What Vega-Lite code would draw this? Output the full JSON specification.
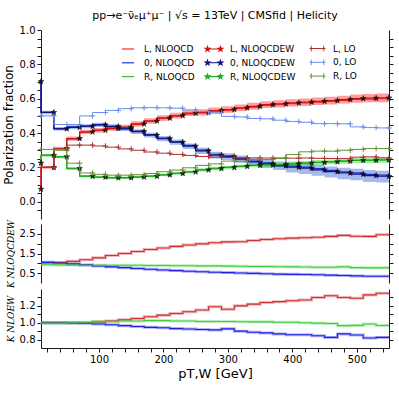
{
"$schema": "https://vega.github.io/schema/vega-lite/v6.json",
"width": 348,
"height": 318,
"padding": {"left": 2, "top": 10, "right": 8, "bottom": 5},
"background": "white",
"title": {"text": "pp→e⁻ν̄ₑμ⁺μ⁻ | √s = 13TeV | CMSfid | Helicity", "offset": 4, "font": "DejaVu Sans", "fontWeight": "normal", "fontSize": 11, "color": "#000"},
"config": {
  "view": {"stroke": null},
  "axis": {"domain": false, "grid": false, "tickColor": "#1a1a1a", "tickSize": 4, "labelFont": "DejaVu Sans", "labelFontSize": 10, "labelColor": "#000", "labelPadding": 2, "titleFont": "DejaVu Sans", "titleFontWeight": "normal", "titleColor": "#000", "titleFontSize": 12},
  "legend": {"labelFont": "DejaVu Sans", "labelFontSize": 9, "labelColor": "#000"}
},
"datasets": {
"frac": [
{"x":10,"c":"L","qcd":0.074,"ew":0.074,"lo":0.2,"blo":0.066,"bhi":0.082},
{"x":30,"c":"L","qcd":0.2,"ew":0.2,"lo":0.2,"blo":0.192,"bhi":0.208},
{"x":50,"c":"L","qcd":0.31,"ew":0.31,"lo":0.31,"blo":0.3,"bhi":0.32},
{"x":70,"c":"L","qcd":0.366,"ew":0.368,"lo":0.33,"blo":0.356,"bhi":0.38},
{"x":90,"c":"L","qcd":0.405,"ew":0.407,"lo":0.33,"blo":0.395,"bhi":0.419},
{"x":110,"c":"L","qcd":0.415,"ew":0.417,"lo":0.325,"blo":0.404,"bhi":0.43},
{"x":130,"c":"L","qcd":0.425,"ew":0.427,"lo":0.318,"blo":0.413,"bhi":0.441},
{"x":150,"c":"L","qcd":0.432,"ew":0.434,"lo":0.308,"blo":0.419,"bhi":0.449},
{"x":170,"c":"L","qcd":0.451,"ew":0.454,"lo":0.3,"blo":0.439,"bhi":0.469},
{"x":190,"c":"L","qcd":0.468,"ew":0.471,"lo":0.29,"blo":0.455,"bhi":0.487},
{"x":210,"c":"L","qcd":0.485,"ew":0.488,"lo":0.283,"blo":0.472,"bhi":0.504},
{"x":230,"c":"L","qcd":0.499,"ew":0.502,"lo":0.276,"blo":0.485,"bhi":0.519},
{"x":250,"c":"L","qcd":0.512,"ew":0.516,"lo":0.27,"blo":0.499,"bhi":0.533},
{"x":270,"c":"L","qcd":0.517,"ew":0.521,"lo":0.264,"blo":0.503,"bhi":0.539},
{"x":290,"c":"L","qcd":0.527,"ew":0.531,"lo":0.26,"blo":0.513,"bhi":0.549},
{"x":310,"c":"L","qcd":0.533,"ew":0.537,"lo":0.258,"blo":0.518,"bhi":0.556},
{"x":330,"c":"L","qcd":0.543,"ew":0.547,"lo":0.256,"blo":0.528,"bhi":0.566},
{"x":350,"c":"L","qcd":0.551,"ew":0.556,"lo":0.256,"blo":0.536,"bhi":0.576},
{"x":370,"c":"L","qcd":0.561,"ew":0.566,"lo":0.255,"blo":0.546,"bhi":0.586},
{"x":390,"c":"L","qcd":0.565,"ew":0.57,"lo":0.255,"blo":0.549,"bhi":0.591},
{"x":410,"c":"L","qcd":0.571,"ew":0.576,"lo":0.254,"blo":0.555,"bhi":0.597},
{"x":430,"c":"L","qcd":0.575,"ew":0.58,"lo":0.255,"blo":0.558,"bhi":0.602},
{"x":450,"c":"L","qcd":0.58,"ew":0.585,"lo":0.253,"blo":0.563,"bhi":0.607},
{"x":470,"c":"L","qcd":0.584,"ew":0.589,"lo":0.252,"blo":0.566,"bhi":0.612},
{"x":490,"c":"L","qcd":0.59,"ew":0.595,"lo":0.252,"blo":0.572,"bhi":0.618},
{"x":510,"c":"L","qcd":0.596,"ew":0.601,"lo":0.26,"blo":0.577,"bhi":0.625},
{"x":530,"c":"L","qcd":0.598,"ew":0.603,"lo":0.262,"blo":0.579,"bhi":0.627},
{"x":550,"c":"L","qcd":0.6,"ew":0.605,"lo":0.256,"blo":0.58,"bhi":0.63},
{"x":10,"c":"0","qcd":0.7,"ew":0.7,"lo":0.5,"blo":0.69,"bhi":0.71},
{"x":30,"c":"0","qcd":0.52,"ew":0.52,"lo":0.5,"blo":0.51,"bhi":0.53},
{"x":50,"c":"0","qcd":0.426,"ew":0.425,"lo":0.45,"blo":0.415,"bhi":0.435},
{"x":70,"c":"0","qcd":0.435,"ew":0.434,"lo":0.45,"blo":0.422,"bhi":0.446},
{"x":90,"c":"0","qcd":0.441,"ew":0.44,"lo":0.5,"blo":0.428,"bhi":0.452},
{"x":110,"c":"0","qcd":0.449,"ew":0.448,"lo":0.52,"blo":0.436,"bhi":0.46},
{"x":130,"c":"0","qcd":0.44,"ew":0.438,"lo":0.532,"blo":0.425,"bhi":0.451},
{"x":150,"c":"0","qcd":0.427,"ew":0.425,"lo":0.542,"blo":0.412,"bhi":0.438},
{"x":170,"c":"0","qcd":0.411,"ew":0.409,"lo":0.547,"blo":0.395,"bhi":0.423},
{"x":190,"c":"0","qcd":0.391,"ew":0.388,"lo":0.548,"blo":0.374,"bhi":0.402},
{"x":210,"c":"0","qcd":0.371,"ew":0.368,"lo":0.547,"blo":0.353,"bhi":0.383},
{"x":230,"c":"0","qcd":0.35,"ew":0.347,"lo":0.545,"blo":0.332,"bhi":0.362},
{"x":250,"c":"0","qcd":0.328,"ew":0.324,"lo":0.535,"blo":0.308,"bhi":0.34},
{"x":270,"c":"0","qcd":0.301,"ew":0.297,"lo":0.525,"blo":0.279,"bhi":0.315},
{"x":290,"c":"0","qcd":0.277,"ew":0.272,"lo":0.518,"blo":0.252,"bhi":0.292},
{"x":310,"c":"0","qcd":0.268,"ew":0.263,"lo":0.497,"blo":0.243,"bhi":0.283},
{"x":330,"c":"0","qcd":0.253,"ew":0.248,"lo":0.494,"blo":0.226,"bhi":0.27},
{"x":350,"c":"0","qcd":0.237,"ew":0.232,"lo":0.485,"blo":0.21,"bhi":0.254},
{"x":370,"c":"0","qcd":0.227,"ew":0.221,"lo":0.483,"blo":0.197,"bhi":0.245},
{"x":390,"c":"0","qcd":0.216,"ew":0.21,"lo":0.475,"blo":0.185,"bhi":0.235},
{"x":410,"c":"0","qcd":0.208,"ew":0.202,"lo":0.468,"blo":0.17,"bhi":0.23},
{"x":430,"c":"0","qcd":0.202,"ew":0.196,"lo":0.463,"blo":0.162,"bhi":0.226},
{"x":450,"c":"0","qcd":0.193,"ew":0.186,"lo":0.455,"blo":0.151,"bhi":0.216},
{"x":470,"c":"0","qcd":0.183,"ew":0.176,"lo":0.455,"blo":0.141,"bhi":0.206},
{"x":490,"c":"0","qcd":0.175,"ew":0.168,"lo":0.454,"blo":0.132,"bhi":0.199},
{"x":510,"c":"0","qcd":0.168,"ew":0.161,"lo":0.436,"blo":0.125,"bhi":0.192},
{"x":530,"c":"0","qcd":0.16,"ew":0.153,"lo":0.432,"blo":0.116,"bhi":0.185},
{"x":550,"c":"0","qcd":0.156,"ew":0.149,"lo":0.43,"blo":0.112,"bhi":0.181},
{"x":10,"c":"R","qcd":0.226,"ew":0.226,"lo":0.305,"blo":0.218,"bhi":0.234},
{"x":30,"c":"R","qcd":0.271,"ew":0.271,"lo":0.305,"blo":0.263,"bhi":0.279},
{"x":50,"c":"R","qcd":0.262,"ew":0.262,"lo":0.3,"blo":0.254,"bhi":0.27},
{"x":70,"c":"R","qcd":0.194,"ew":0.194,"lo":0.225,"blo":0.186,"bhi":0.202},
{"x":90,"c":"R","qcd":0.149,"ew":0.149,"lo":0.168,"blo":0.142,"bhi":0.156},
{"x":110,"c":"R","qcd":0.144,"ew":0.144,"lo":0.16,"blo":0.137,"bhi":0.151},
{"x":130,"c":"R","qcd":0.14,"ew":0.14,"lo":0.155,"blo":0.133,"bhi":0.147},
{"x":150,"c":"R","qcd":0.14,"ew":0.14,"lo":0.155,"blo":0.133,"bhi":0.147},
{"x":170,"c":"R","qcd":0.144,"ew":0.144,"lo":0.158,"blo":0.137,"bhi":0.151},
{"x":190,"c":"R","qcd":0.149,"ew":0.149,"lo":0.165,"blo":0.141,"bhi":0.157},
{"x":210,"c":"R","qcd":0.157,"ew":0.157,"lo":0.175,"blo":0.149,"bhi":0.165},
{"x":230,"c":"R","qcd":0.165,"ew":0.165,"lo":0.185,"blo":0.157,"bhi":0.173},
{"x":250,"c":"R","qcd":0.174,"ew":0.174,"lo":0.198,"blo":0.165,"bhi":0.183},
{"x":270,"c":"R","qcd":0.186,"ew":0.186,"lo":0.212,"blo":0.177,"bhi":0.195},
{"x":290,"c":"R","qcd":0.194,"ew":0.194,"lo":0.221,"blo":0.184,"bhi":0.204},
{"x":310,"c":"R","qcd":0.2,"ew":0.2,"lo":0.237,"blo":0.19,"bhi":0.21},
{"x":330,"c":"R","qcd":0.206,"ew":0.206,"lo":0.237,"blo":0.195,"bhi":0.217},
{"x":350,"c":"R","qcd":0.212,"ew":0.212,"lo":0.246,"blo":0.201,"bhi":0.223},
{"x":370,"c":"R","qcd":0.215,"ew":0.215,"lo":0.246,"blo":0.203,"bhi":0.227},
{"x":390,"c":"R","qcd":0.217,"ew":0.217,"lo":0.252,"blo":0.205,"bhi":0.229},
{"x":410,"c":"R","qcd":0.221,"ew":0.221,"lo":0.275,"blo":0.208,"bhi":0.234},
{"x":430,"c":"R","qcd":0.225,"ew":0.225,"lo":0.291,"blo":0.212,"bhi":0.238},
{"x":450,"c":"R","qcd":0.229,"ew":0.229,"lo":0.295,"blo":0.215,"bhi":0.243},
{"x":470,"c":"R","qcd":0.233,"ew":0.233,"lo":0.295,"blo":0.219,"bhi":0.247},
{"x":490,"c":"R","qcd":0.237,"ew":0.237,"lo":0.3,"blo":0.222,"bhi":0.252},
{"x":510,"c":"R","qcd":0.241,"ew":0.241,"lo":0.305,"blo":0.226,"bhi":0.256},
{"x":530,"c":"R","qcd":0.242,"ew":0.242,"lo":0.31,"blo":0.226,"bhi":0.258},
{"x":550,"c":"R","qcd":0.244,"ew":0.244,"lo":0.31,"blo":0.228,"bhi":0.26}
],
"kqcdew": [
{"x":10,"c":"L","k":1.03},{"x":30,"c":"L","k":1.03},{"x":50,"c":"L","k":1.04},{"x":70,"c":"L","k":1.1},{"x":90,"c":"L","k":1.18},{"x":110,"c":"L","k":1.28},{"x":130,"c":"L","k":1.4},{"x":150,"c":"L","k":1.5},{"x":170,"c":"L","k":1.6},{"x":190,"c":"L","k":1.7},{"x":210,"c":"L","k":1.78},{"x":230,"c":"L","k":1.86},{"x":250,"c":"L","k":1.93},{"x":270,"c":"L","k":1.99},{"x":290,"c":"L","k":2.05},{"x":310,"c":"L","k":2.09},{"x":330,"c":"L","k":2.1},{"x":350,"c":"L","k":2.16},{"x":370,"c":"L","k":2.21},{"x":390,"c":"L","k":2.25},{"x":410,"c":"L","k":2.28},{"x":430,"c":"L","k":2.3},{"x":450,"c":"L","k":2.33},{"x":470,"c":"L","k":2.37},{"x":490,"c":"L","k":2.42},{"x":510,"c":"L","k":2.38},{"x":530,"c":"L","k":2.37},{"x":550,"c":"L","k":2.45},
{"x":10,"c":"0","k":1.05},{"x":30,"c":"0","k":1.05},{"x":50,"c":"0","k":1.02},{"x":70,"c":"0","k":0.97},{"x":90,"c":"0","k":0.92},{"x":110,"c":"0","k":0.87},{"x":130,"c":"0","k":0.82},{"x":150,"c":"0","k":0.78},{"x":170,"c":"0","k":0.74},{"x":190,"c":"0","k":0.7},{"x":210,"c":"0","k":0.66},{"x":230,"c":"0","k":0.63},{"x":250,"c":"0","k":0.6},{"x":270,"c":"0","k":0.57},{"x":290,"c":"0","k":0.55},{"x":310,"c":"0","k":0.53},{"x":330,"c":"0","k":0.51},{"x":350,"c":"0","k":0.49},{"x":370,"c":"0","k":0.47},{"x":390,"c":"0","k":0.45},{"x":410,"c":"0","k":0.44},{"x":430,"c":"0","k":0.43},{"x":450,"c":"0","k":0.42},{"x":470,"c":"0","k":0.4},{"x":490,"c":"0","k":0.38},{"x":510,"c":"0","k":0.36},{"x":530,"c":"0","k":0.34},{"x":550,"c":"0","k":0.34},
{"x":10,"c":"R","k":0.93},{"x":30,"c":"R","k":0.93},{"x":50,"c":"R","k":0.92},{"x":70,"c":"R","k":0.91},{"x":90,"c":"R","k":0.9},{"x":110,"c":"R","k":0.9},{"x":130,"c":"R","k":0.9},{"x":150,"c":"R","k":0.9},{"x":170,"c":"R","k":0.9},{"x":190,"c":"R","k":0.89},{"x":210,"c":"R","k":0.89},{"x":230,"c":"R","k":0.88},{"x":250,"c":"R","k":0.88},{"x":270,"c":"R","k":0.87},{"x":290,"c":"R","k":0.87},{"x":310,"c":"R","k":0.86},{"x":330,"c":"R","k":0.85},{"x":350,"c":"R","k":0.84},{"x":370,"c":"R","k":0.84},{"x":390,"c":"R","k":0.83},{"x":410,"c":"R","k":0.82},{"x":430,"c":"R","k":0.81},{"x":450,"c":"R","k":0.8},{"x":470,"c":"R","k":0.8},{"x":490,"c":"R","k":0.82},{"x":510,"c":"R","k":0.78},{"x":530,"c":"R","k":0.77},{"x":550,"c":"R","k":0.77}
],
"kew": [
{"x":10,"c":"L","k":1.0},{"x":30,"c":"L","k":1.0},{"x":50,"c":"L","k":1.0},{"x":70,"c":"L","k":1.0},{"x":90,"c":"L","k":1.003},{"x":110,"c":"L","k":1.01},{"x":130,"c":"L","k":1.02},{"x":150,"c":"L","k":1.035},{"x":170,"c":"L","k":1.05},{"x":190,"c":"L","k":1.07},{"x":210,"c":"L","k":1.09},{"x":230,"c":"L","k":1.11},{"x":250,"c":"L","k":1.13},{"x":270,"c":"L","k":1.15},{"x":290,"c":"L","k":1.19},{"x":310,"c":"L","k":1.16},{"x":330,"c":"L","k":1.2},{"x":350,"c":"L","k":1.22},{"x":370,"c":"L","k":1.24},{"x":390,"c":"L","k":1.25},{"x":410,"c":"L","k":1.26},{"x":430,"c":"L","k":1.27},{"x":450,"c":"L","k":1.3},{"x":470,"c":"L","k":1.32},{"x":490,"c":"L","k":1.3},{"x":510,"c":"L","k":1.29},{"x":530,"c":"L","k":1.33},{"x":550,"c":"L","k":1.35},
{"x":10,"c":"0","k":1.0},{"x":30,"c":"0","k":1.0},{"x":50,"c":"0","k":1.0},{"x":70,"c":"0","k":0.998},{"x":90,"c":"0","k":0.995},{"x":110,"c":"0","k":0.985},{"x":130,"c":"0","k":0.975},{"x":150,"c":"0","k":0.965},{"x":170,"c":"0","k":0.955},{"x":190,"c":"0","k":0.945},{"x":210,"c":"0","k":0.94},{"x":230,"c":"0","k":0.93},{"x":250,"c":"0","k":0.925},{"x":270,"c":"0","k":0.92},{"x":290,"c":"0","k":0.915},{"x":310,"c":"0","k":0.927},{"x":330,"c":"0","k":0.9},{"x":350,"c":"0","k":0.887},{"x":370,"c":"0","k":0.879},{"x":390,"c":"0","k":0.867},{"x":410,"c":"0","k":0.858},{"x":430,"c":"0","k":0.858},{"x":450,"c":"0","k":0.846},{"x":470,"c":"0","k":0.826},{"x":490,"c":"0","k":0.867},{"x":510,"c":"0","k":0.855},{"x":530,"c":"0","k":0.818},{"x":550,"c":"0","k":0.826},
{"x":10,"c":"R","k":1.0},{"x":30,"c":"R","k":0.995},{"x":50,"c":"R","k":0.995},{"x":70,"c":"R","k":1.0},{"x":90,"c":"R","k":1.0},{"x":110,"c":"R","k":1.01},{"x":130,"c":"R","k":1.015},{"x":150,"c":"R","k":1.02},{"x":170,"c":"R","k":1.02},{"x":190,"c":"R","k":1.025},{"x":210,"c":"R","k":1.025},{"x":230,"c":"R","k":1.02},{"x":250,"c":"R","k":1.02},{"x":270,"c":"R","k":1.015},{"x":290,"c":"R","k":1.015},{"x":310,"c":"R","k":1.015},{"x":330,"c":"R","k":1.012},{"x":350,"c":"R","k":1.01},{"x":370,"c":"R","k":1.01},{"x":390,"c":"R","k":1.005},{"x":410,"c":"R","k":1.005},{"x":430,"c":"R","k":1.0},{"x":450,"c":"R","k":0.995},{"x":470,"c":"R","k":0.99},{"x":490,"c":"R","k":0.965},{"x":510,"c":"R","k":0.968},{"x":530,"c":"R","k":0.985},{"x":550,"c":"R","k":0.967}
],
"one": [{"f": 1}]
},
"encoding": {
  "x": {"field": "x", "type": "quantitative", "scale": {"domain": [10, 550], "nice": false, "zero": false}, "axis": {"values": [20,40,60,80,100,120,140,160,180,200,220,240,260,280,300,320,340,360,380,400,420,440,460,480,500,520,540], "labelExpr": "datum.value % 100 == 0 ? datum.label : ''", "title": "pT,W [GeV]", "titleFontSize": 13, "titlePadding": 3, "domain": true, "domainColor": "#1a1a1a"}}
},
"layer": [
  {"data": {"name": "one"}, "mark": {"type": "rect", "fillOpacity": 0, "stroke": "#1a1a1a", "strokeWidth": 1},
   "encoding": {"x": {"datum": 10, "type": "quantitative"}, "x2": {"datum": 550}, "y": {"datum": -0.1, "type": "quantitative", "scale": {"domain": [-0.1, 1.0], "range": [189, 0], "nice": false, "zero": false}, "axis": null}, "y2": {"datum": 1.0}}},
  {"data": {"name": "frac"}, "mark": {"type": "area", "interpolate": "step-before", "fillOpacity": 0.5},
   "encoding": {
     "y": {"field": "blo", "type": "quantitative", "scale": {"domain": [-0.1, 1.0], "range": [189, 0], "nice": false, "zero": false}, "axis": {"orient": "left", "domain": true, "domainColor": "#1a1a1a", "values": [-0.05,0,0.05,0.1,0.15,0.2,0.25,0.3,0.35,0.4,0.45,0.5,0.55,0.6,0.65,0.7,0.75,0.8,0.85,0.9,0.95,1.0], "labelExpr": "(abs(datum.value*5 - round(datum.value*5)) < 0.001 && datum.value > -0.01) ? format(datum.value, '.1f') : ''", "title": "Polarization fraction"}},
     "y2": {"field": "bhi"},
     "fill": {"field": "c", "type": "nominal", "scale": {"domain": ["L","0","R"], "range": ["#ff3b3b","#4f73d6","#3fdc3f"]}, "legend": null}
   }},
  {"data": {"name": "frac"}, "mark": {"type": "line", "interpolate": "step-before", "strokeWidth": 1.2},
   "encoding": {
     "y": {"field": "qcd", "type": "quantitative", "scale": {"domain": [-0.1, 1.0], "range": [189, 0], "nice": false, "zero": false}, "axis": {"orient": "right", "domain": true, "domainColor": "#1a1a1a", "values": [-0.05,0,0.05,0.1,0.15,0.2,0.25,0.3,0.35,0.4,0.45,0.5,0.55,0.6,0.65,0.7,0.75,0.8,0.85,0.9,0.95], "labels": false, "title": null}},
     "stroke": {"field": "c", "type": "nominal", "scale": {"domain": ["L","0","R"], "range": ["#ff2020","#1f2fd0","#30c030"]},
       "legend": {"orient": "none", "legendX": 81, "legendY": 13, "title": null, "symbolType": "M-1.2,0H1.2", "symbolSize": 100, "symbolStrokeWidth": 1.2, "labelOffset": 10, "rowPadding": 2.8, "labelExpr": "datum.label + ', NLOQCD'"}}
   }},
  {"data": {"name": "frac"}, "mark": {"type": "line", "interpolate": "step-before", "strokeWidth": 1.3},
   "encoding": {
     "y": {"field": "ew", "type": "quantitative", "scale": {"domain": [-0.1, 1.0], "range": [189, 0], "nice": false, "zero": false}, "axis": null},
     "stroke": {"field": "c", "type": "nominal", "scale": {"domain": ["L","0","R"], "range": ["#d01010","#10108a","#22aa22"]},
       "legend": {"orient": "none", "legendX": 167, "legendY": 13, "title": null, "symbolType": "M-1.6,0H1.6M-1.3,-0.5L-1.182,-0.162L-0.825,-0.155L-1.11,0.062L-1.006,0.405L-1.3,0.2L-1.594,0.405L-1.49,0.062L-1.776,-0.155L-1.418,-0.162ZM1.3,-0.5L1.418,-0.162L1.776,-0.155L1.49,0.062L1.594,0.405L1.3,0.2L1.006,0.405L1.11,0.062L0.825,-0.155L1.182,-0.162Z", "symbolSize": 100, "symbolStrokeWidth": 1.1, "symbolFillColor": "#1a1a1a", "labelOffset": 10, "rowPadding": 2.8, "labelExpr": "datum.label + ', NLOQCDEW'"}}
   }},
  {"data": {"name": "frac"}, "mark": {"type": "point", "shape": "M0,-1L0.235,-0.324L0.951,-0.309L0.38,0.124L0.588,0.809L0,0.4L-0.588,0.809L-0.38,0.124L-0.951,-0.309L-0.235,-0.324Z", "filled": true, "size": 36, "stroke": "#111", "strokeWidth": 0.5, "opacity": 1},
   "encoding": {
     "y": {"field": "ew", "type": "quantitative", "scale": {"domain": [-0.1, 1.0], "range": [189, 0], "nice": false, "zero": false}, "axis": null},
     "fill": {"field": "c", "type": "nominal", "scale": {"domain": ["L","0","R"], "range": ["#3a0a0a","#0a0a3a","#0a300a"]}, "legend": null}
   }},
  {"data": {"name": "frac"}, "mark": {"type": "line", "interpolate": "step-before", "strokeWidth": 1},
   "encoding": {
     "y": {"field": "lo", "type": "quantitative", "scale": {"domain": [-0.1, 1.0], "range": [189, 0], "nice": false, "zero": false}, "axis": null},
     "stroke": {"field": "c", "type": "nominal", "scale": {"domain": ["L","0","R"], "range": ["#b03030","#6a8ef0","#6b8e3a"]},
       "legend": {"orient": "none", "legendX": 271, "legendY": 13, "title": null, "symbolType": "M-1.6,0H1.6M-1.25,-0.55V0.55M1.25,-0.55V0.55", "symbolSize": 100, "symbolStrokeWidth": 1, "labelOffset": 10, "rowPadding": 2.8, "labelExpr": "datum.label + ', LO'"}}
   }},
  {"data": {"name": "frac"}, "mark": {"type": "point", "shape": "M-1,0H1M0,-1V1", "filled": false, "size": 30, "strokeWidth": 1, "opacity": 1},
   "encoding": {
     "y": {"field": "lo", "type": "quantitative", "scale": {"domain": [-0.1, 1.0], "range": [189, 0], "nice": false, "zero": false}, "axis": null},
     "stroke": {"field": "c", "type": "nominal", "scale": {"domain": ["L","0","R"], "range": ["#b03030","#6a8ef0","#6b8e3a"]}, "legend": null}
   }},
  {"data": {"name": "one"}, "mark": {"type": "rect", "fillOpacity": 0, "stroke": "#1a1a1a", "strokeWidth": 1},
   "encoding": {"x": {"datum": 10, "type": "quantitative"}, "x2": {"datum": 550}, "y": {"datum": 0, "type": "quantitative", "scale": {"domain": [0, 3], "range": [253, 194], "nice": false, "zero": false}, "axis": null}, "y2": {"datum": 3}}},
  {"data": {"name": "kqcdew"}, "mark": {"type": "line", "interpolate": "step-before", "strokeWidth": 3, "opacity": 0.35},
   "encoding": {
     "y": {"field": "k", "type": "quantitative", "scale": {"domain": [0, 3], "range": [253, 194], "nice": false, "zero": false}, "axis": {"orient": "left", "domain": true, "domainColor": "#1a1a1a", "values": [0.5,1,1.5,2,2.5], "labelExpr": "datum.value % 1 == 0.5 ? format(datum.value, '.1f') : ''", "title": "K NLOQCDEW", "titleFont": "DejaVu Serif", "titleFontStyle": "italic", "titleFontSize": 9}},
     "stroke": {"field": "c", "type": "nominal", "scale": {"domain": ["L","0","R"], "range": ["#d03030","#2020e8","#40d040"]}, "legend": null}
   }},
  {"data": {"name": "kqcdew"}, "mark": {"type": "line", "interpolate": "step-before", "strokeWidth": 1.1},
   "encoding": {
     "y": {"field": "k", "type": "quantitative", "scale": {"domain": [0, 3], "range": [253, 194], "nice": false, "zero": false}, "axis": {"orient": "right", "domain": true, "domainColor": "#1a1a1a", "values": [0.5,1,1.5,2,2.5], "labels": false, "title": null}},
     "stroke": {"field": "c", "type": "nominal", "scale": {"domain": ["L","0","R"], "range": ["#d03030","#2020e8","#40d040"]}, "legend": null}
   }},
  {"data": {"name": "one"}, "mark": {"type": "rect", "fillOpacity": 0, "stroke": "#1a1a1a", "strokeWidth": 1},
   "encoding": {"x": {"datum": 10, "type": "quantitative"}, "x2": {"datum": 550}, "y": {"datum": 0.7, "type": "quantitative", "scale": {"domain": [0.7, 1.4], "range": [318, 259], "nice": false, "zero": false}, "axis": null}, "y2": {"datum": 1.4}}},
  {"data": {"name": "kew"}, "mark": {"type": "line", "interpolate": "step-before", "strokeWidth": 3, "opacity": 0.35},
   "encoding": {
     "y": {"field": "k", "type": "quantitative", "scale": {"domain": [0.7, 1.4], "range": [318, 259], "nice": false, "zero": false}, "axis": {"orient": "left", "domain": true, "domainColor": "#1a1a1a", "values": [0.8,0.9,1.0,1.1,1.2,1.3], "labelExpr": "abs(datum.value*5 - round(datum.value*5)) < 0.001 ? format(datum.value, '.1f') : ''", "title": "K NLOEW", "titleFont": "DejaVu Serif", "titleFontStyle": "italic", "titleFontSize": 9}},
     "stroke": {"field": "c", "type": "nominal", "scale": {"domain": ["L","0","R"], "range": ["#d03030","#2020e8","#40d040"]}, "legend": null}
   }},
  {"data": {"name": "kew"}, "mark": {"type": "line", "interpolate": "step-before", "strokeWidth": 1.1},
   "encoding": {
     "y": {"field": "k", "type": "quantitative", "scale": {"domain": [0.7, 1.4], "range": [318, 259], "nice": false, "zero": false}, "axis": {"orient": "right", "domain": true, "domainColor": "#1a1a1a", "values": [0.8,0.9,1.0,1.1,1.2,1.3], "labels": false, "title": null}},
     "stroke": {"field": "c", "type": "nominal", "scale": {"domain": ["L","0","R"], "range": ["#d03030","#2020e8","#40d040"]}, "legend": null}
   }}
],
"resolve": {"scale": {"y": "independent", "stroke": "independent", "fill": "independent"}, "axis": {"y": "independent"}, "legend": {"stroke": "independent", "fill": "independent"}}
}
